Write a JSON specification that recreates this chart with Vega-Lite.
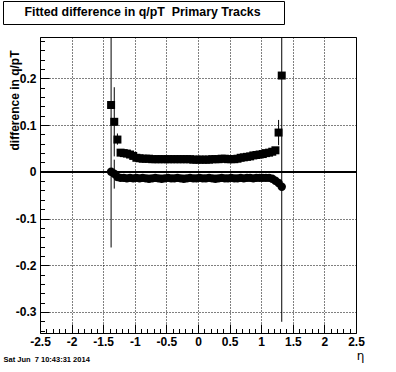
{
  "$schema": "https://vega.github.io/schema/vega-lite/v6.json",
  "width": 316,
  "height": 296,
  "autosize": {"type": "none"},
  "padding": {"left": 40, "top": 37, "right": 40, "bottom": 39},
  "background": "white",
  "config": {
    "view": {"stroke": "black", "strokeWidth": 1},
    "font": "Liberation Sans"
  },
  "datasets": {
    "pts": [
      {"eta": -1.375, "u": 0.143, "l": 0.000},
      {"eta": -1.325, "u": 0.107, "l": -0.004},
      {"eta": -1.275, "u": 0.069, "l": -0.011},
      {"eta": -1.225, "u": 0.041, "l": -0.013},
      {"eta": -1.175, "u": 0.040, "l": -0.013},
      {"eta": -1.125, "u": 0.039, "l": -0.014},
      {"eta": -1.075, "u": 0.037, "l": -0.013},
      {"eta": -1.025, "u": 0.034, "l": -0.014},
      {"eta": -0.975, "u": 0.030, "l": -0.013},
      {"eta": -0.925, "u": 0.029, "l": -0.014},
      {"eta": -0.875, "u": 0.028, "l": -0.013},
      {"eta": -0.825, "u": 0.028, "l": -0.014},
      {"eta": -0.775, "u": 0.028, "l": -0.015},
      {"eta": -0.725, "u": 0.027, "l": -0.014},
      {"eta": -0.675, "u": 0.027, "l": -0.013},
      {"eta": -0.625, "u": 0.027, "l": -0.014},
      {"eta": -0.575, "u": 0.027, "l": -0.015},
      {"eta": -0.525, "u": 0.027, "l": -0.014},
      {"eta": -0.475, "u": 0.027, "l": -0.013},
      {"eta": -0.425, "u": 0.027, "l": -0.014},
      {"eta": -0.375, "u": 0.027, "l": -0.014},
      {"eta": -0.325, "u": 0.027, "l": -0.013},
      {"eta": -0.275, "u": 0.027, "l": -0.014},
      {"eta": -0.225, "u": 0.027, "l": -0.015},
      {"eta": -0.175, "u": 0.027, "l": -0.014},
      {"eta": -0.125, "u": 0.027, "l": -0.013},
      {"eta": -0.075, "u": 0.026, "l": -0.014},
      {"eta": -0.025, "u": 0.026, "l": -0.014},
      {"eta": 0.025, "u": 0.026, "l": -0.013},
      {"eta": 0.075, "u": 0.026, "l": -0.014},
      {"eta": 0.125, "u": 0.026, "l": -0.014},
      {"eta": 0.175, "u": 0.026, "l": -0.013},
      {"eta": 0.225, "u": 0.027, "l": -0.014},
      {"eta": 0.275, "u": 0.027, "l": -0.015},
      {"eta": 0.325, "u": 0.027, "l": -0.014},
      {"eta": 0.375, "u": 0.028, "l": -0.013},
      {"eta": 0.425, "u": 0.028, "l": -0.014},
      {"eta": 0.475, "u": 0.027, "l": -0.014},
      {"eta": 0.525, "u": 0.027, "l": -0.013},
      {"eta": 0.575, "u": 0.027, "l": -0.014},
      {"eta": 0.625, "u": 0.028, "l": -0.014},
      {"eta": 0.675, "u": 0.030, "l": -0.013},
      {"eta": 0.725, "u": 0.031, "l": -0.014},
      {"eta": 0.775, "u": 0.032, "l": -0.013},
      {"eta": 0.825, "u": 0.033, "l": -0.013},
      {"eta": 0.875, "u": 0.035, "l": -0.014},
      {"eta": 0.925, "u": 0.036, "l": -0.013},
      {"eta": 0.975, "u": 0.037, "l": -0.013},
      {"eta": 1.025, "u": 0.038, "l": -0.013},
      {"eta": 1.075, "u": 0.040, "l": -0.013},
      {"eta": 1.125, "u": 0.041, "l": -0.013},
      {"eta": 1.175, "u": 0.043, "l": -0.015},
      {"eta": 1.225, "u": 0.046, "l": -0.019},
      {"eta": 1.275, "u": 0.084, "l": -0.024},
      {"eta": 1.325, "u": 0.206, "l": -0.032}
    ],
    "errs": [
      {"eta": -1.375, "lo": -0.162, "hi": 0.45},
      {"eta": -1.325, "lo": 0.033, "hi": 0.181},
      {"eta": -1.325, "lo": -0.036, "hi": 0.026},
      {"eta": -1.275, "lo": 0.058, "hi": 0.082},
      {"eta": 1.275, "lo": 0.057, "hi": 0.111},
      {"eta": 1.325, "lo": -0.321, "hi": 0.73}
    ]
  },
  "layer": [
    {
      "data": {"name": "errs"},
      "mark": {"type": "rule", "color": "black", "strokeWidth": 1, "clip": true},
      "encoding": {
        "x": {
          "field": "eta", "type": "quantitative",
          "scale": {"domain": [-2.5, 2.5], "nice": false, "zero": false},
          "axis": {
            "orient": "bottom",
            "values": [-2.5, -2, -1.5, -1, -0.5, 0, 0.5, 1, 1.5, 2, 2.5],
            "labelExpr": "'' + datum.value",
            "tickSize": -9, "tickColor": "black", "tickWidth": 1,
            "labelPadding": 12.5,
            "labelFont": "Liberation Sans", "labelFontSize": 12, "labelFontWeight": "bold", "labelColor": "black",
            "labelFlush": false, "labelOverlap": false,
            "grid": true, "gridDash": [1, 2], "gridColor": "black", "gridOpacity": 1, "gridWidth": 1,
            "domain": false,
            "title": "η", "titleFont": "DejaVu Sans", "titleFontSize": 12, "titleFontWeight": "normal", "titleColor": "black",
            "titleX": 320, "titleY": 26, "titleAlign": "center", "titleBaseline": "alphabetic"
          }
        },
        "y": {
          "field": "lo", "type": "quantitative",
          "scale": {"domain": [-0.345, 0.2885], "nice": false, "zero": false},
          "axis": {
            "orient": "left",
            "values": [-0.3, -0.2, -0.1, 0, 0.1, 0.2],
            "labelExpr": "'' + datum.value",
            "tickSize": -9, "tickColor": "black", "tickWidth": 1,
            "labelPadding": 13,
            "labelFont": "Liberation Sans", "labelFontSize": 12, "labelFontWeight": "bold", "labelColor": "black",
            "labelFlush": false, "labelOverlap": false,
            "grid": true, "gridDash": [1, 2], "gridColor": "black", "gridOpacity": 1, "gridWidth": 1,
            "domain": false,
            "title": "difference in q/pT", "titleFont": "Liberation Sans", "titleFontSize": 12, "titleFontWeight": "bold", "titleColor": "black",
            "titleX": -22, "titleY": 13, "titleAlign": "right", "titleAngle": -90, "titleBaseline": "alphabetic"
          }
        },
        "y2": {"field": "hi"}
      }
    },
    {
      "data": {"name": "pts"},
      "mark": {"type": "rule", "color": "black", "strokeWidth": 1},
      "encoding": {
        "y": {"datum": 0, "type": "quantitative", "axis": null}
      }
    },
    {
      "data": {"name": "pts"},
      "mark": {"type": "square", "filled": true, "size": 64, "opacity": 1, "strokeWidth": 0},
      "encoding": {
        "x": {
          "field": "eta", "type": "quantitative",
          "axis": {
            "orient": "bottom",
            "values": [-2.4, -2.3, -2.2, -2.1, -1.9, -1.8, -1.7, -1.6, -1.4, -1.3, -1.2, -1.1, -0.9, -0.8, -0.7, -0.6, -0.4, -0.3, -0.2, -0.1, 0.1, 0.2, 0.3, 0.4, 0.6, 0.7, 0.8, 0.9, 1.1, 1.2, 1.3, 1.4, 1.6, 1.7, 1.8, 1.9, 2.1, 2.2, 2.3, 2.4],
            "tickSize": -4.5, "tickColor": "black", "tickWidth": 1,
            "labels": false, "grid": false, "domain": false,
            "title": "Sat Jun\u00a0\u00a07 10:43:31 2014", "titleFont": "Liberation Sans", "titleFontSize": 7.5, "titleFontWeight": "bold", "titleColor": "black",
            "titleX": -37, "titleY": 28, "titleAlign": "left", "titleBaseline": "alphabetic"
          }
        },
        "y": {
          "field": "u", "type": "quantitative",
          "axis": {
            "orient": "left",
            "values": [-0.34, -0.32, -0.28, -0.26, -0.24, -0.22, -0.18, -0.16, -0.14, -0.12, -0.08, -0.06, -0.04, -0.02, 0.02, 0.04, 0.06, 0.08, 0.12, 0.14, 0.16, 0.18, 0.22, 0.24, 0.26, 0.28],
            "tickSize": -4.5, "tickColor": "black", "tickWidth": 1,
            "labels": false, "grid": false, "domain": false, "title": null
          }
        },
        "color": {
          "datum": "Fitted difference in q/pT\u00a0\u00a0Primary Tracks\u2800\u2800",
          "type": "nominal",
          "scale": {"range": ["black"]},
          "legend": {
            "orient": "none", "legendX": -37, "legendY": -36,
            "title": null,
            "symbolSize": 0, "symbolOpacity": 0, "symbolStrokeWidth": 0,
            "labelFont": "Liberation Sans", "labelFontSize": 12.4, "labelFontWeight": "bold", "labelColor": "black",
            "labelLimit": 600, "labelOffset": 4,
            "strokeColor": "black", "fillColor": "white", "padding": 5
          }
        }
      }
    },
    {
      "data": {"name": "pts"},
      "mark": {"type": "circle", "size": 71, "color": "black", "opacity": 1},
      "encoding": {
        "x": {"field": "eta", "type": "quantitative", "axis": null},
        "y": {"field": "l", "type": "quantitative", "axis": null}
      }
    }
  ],
  "resolve": {"axis": {"x": "independent", "y": "independent"}}
}
